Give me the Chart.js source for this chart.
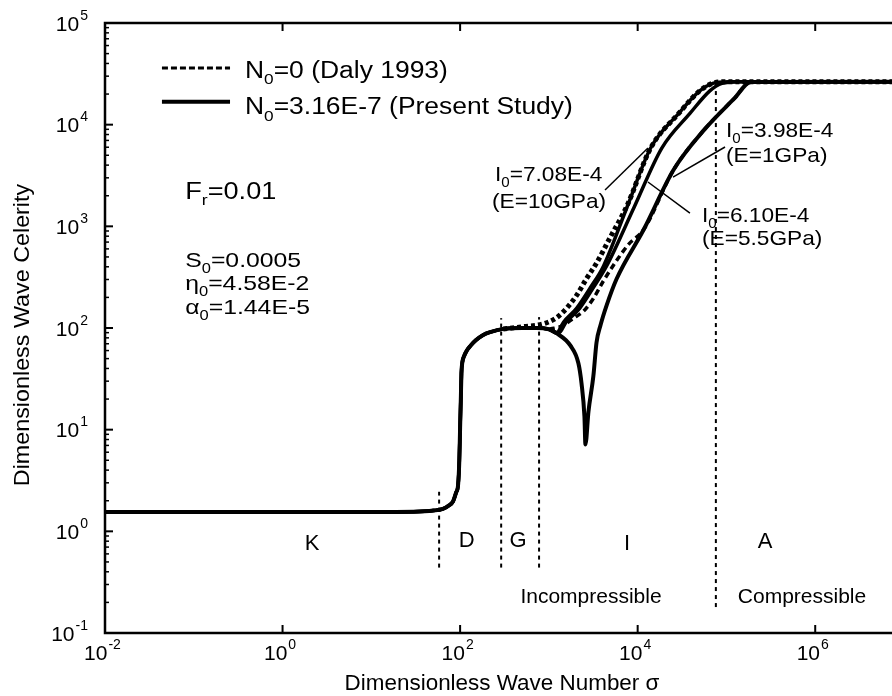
<!DOCTYPE html>
<html>
<head>
<meta charset="utf-8">
<script src="https://cdn.jsdelivr.net/npm/chart.js@4.4.1/dist/chart.umd.min.js"></script>
<style>
  html, body { margin: 0; padding: 0; background: #fff; overflow: hidden; }
  #wrap { width: 904px; height: 696px; }
</style>
</head>
<body>
<div id="wrap"><canvas id="waveChart" width="904" height="696"></canvas></div>
<script>
// part shared by every curve: kinetic plateau, jump near sigma=100, gravity plateau
const baseSigma = [0.01, 1, 10, 30, 50, 64, 75, 83, 90, 95, 98, 100, 102, 103.5, 106, 111, 119, 131, 151, 180, 218, 306, 500, 724, 1000];
const baseCelerity = [1.55, 1.55, 1.55, 1.56, 1.6, 1.66, 1.8, 1.96, 2.4, 2.9, 5, 10.6, 21, 36, 46, 53, 60, 67, 76, 85, 91, 98, 100, 100, 97];

// present study (N0 = 3.16E-7)
const sigmaE10 = [1216, 1460, 2050, 2940, 4130, 7600, 14000, 29000, 50000, 70000, 105000, 1e7];
const celerityE10 = [89, 114, 156, 250, 408, 1550, 5890, 12900, 21500, 25500, 26500, 26500];
const sigmaE55 = [1290, 1560, 2220, 3170, 4470, 9150, 18700, 38800, 65000, 89000, 138000, 1e7];
const celerityE55 = [89, 114, 156, 250, 408, 1550, 5890, 12900, 21500, 25500, 26500, 26500];
const sigmaE1 = [1216, 1750, 2150, 2330, 2515, 2580, 2790, 3170, 3440, 3820, 4470, 5800, 11700, 25500, 55700, 122000, 189000, 1e7];
const celerityE1 = [89, 67, 45, 28.6, 13.4, 7.15, 15, 33.7, 72, 107, 167, 305, 930, 3620, 8830, 18000, 26300, 26500];

// Daly 1993 (N0 = 0)
const sigmaDalyE10 = [306, 515, 867, 1216, 1580, 2050, 2650, 3440, 4950, 7600, 14000, 29000, 50000, 70000, 105000, 1e7];
const celerityDalyE10 = [98, 103, 110, 126, 156, 209, 305, 435, 790, 1600, 5890, 12900, 21500, 25500, 26500, 26500];
const sigmaDalyE1 = [1000, 1460, 1890, 2450, 3170, 4130, 5640, 7900, 11700, 25500, 55700, 122000, 189000, 1e7];
const celerityDalyE1 = [97, 106, 125, 146, 195, 292, 445, 665, 930, 3620, 8830, 18000, 26300, 26500];

// K|D, D|G, G|I, I|A region boundaries
const boundarySigma = [58, 290, 775, 76000];
const boundaryLow = [0.44, 0.44, 0.44, 0.18];
const boundaryHigh = [2.45, 125, 128, 22000];

const xTickValues = [1e-2, 1e0, 1e2, 1e4, 1e6];
const yTickValues = [1e-1, 1e0, 1e1, 1e2, 1e3, 1e4, 1e5];

const FONT = "'Liberation Sans', Arial, Helvetica, sans-serif";

const notes = [
  { text: "F_r=0.01", x: 0.08, y: 1860, size: 23, stretch: 1.18 },
  { text: "S_0=0.0005", x: 0.08, y: 398, size: 21, stretch: 1.18 },
  { text: "η_0=4.58E-2", x: 0.08, y: 237, size: 21, stretch: 1.18 },
  { text: "α_0=1.44E-5", x: 0.08, y: 137, size: 21, stretch: 1.18 },
  { text: "I_0=7.08E-4", x: 247, y: 2790, size: 21, stretch: 1.08 },
  { text: "(E=10GPa)", x: 229, y: 1510, size: 21, stretch: 1.08 },
  { text: "I_0=3.98E-4", x: 98900, y: 7570, size: 21, stretch: 1.08 },
  { text: "(E=1GPa)", x: 98900, y: 4300, size: 21, stretch: 1.08 },
  { text: "I_0=6.10E-4", x: 53000, y: 1100, size: 21, stretch: 1.08 },
  { text: "(E=5.5GPa)", x: 53000, y: 655, size: 21, stretch: 1.08 },
  { text: "K", x: 2.15, y: 0.66, size: 22, align: "center" },
  { text: "D", x: 119, y: 0.7, size: 22, align: "center" },
  { text: "G", x: 449, y: 0.7, size: 22, align: "center" },
  { text: "I", x: 7590, y: 0.66, size: 22, align: "center" },
  { text: "A", x: 272000, y: 0.68, size: 22, align: "center" },
  { text: "Incompressible", x: 2980, y: 0.197, size: 21, align: "center" },
  { text: "Compressible", x: 710000, y: 0.197, size: 21, align: "center" },
  { text: "N_0=0 (Daly 1993)", x: 0.377, y: 28800, size: 23, stretch: 1.15 },
  { text: "N_0=3.16E-7 (Present Study)", x: 0.377, y: 12700, size: 23, stretch: 1.15 }
];

const pointers = [
  [4290, 2280, 13060, 5900],
  [96400, 6030, 25000, 3050],
  [38800, 1350, 13060, 2730]
];

function toPoints(xs, ys) {
  return xs.map((x, i) => ({ x, y: ys[i] }));
}

function withBase(xs, ys) {
  return toPoints(baseSigma, baseCelerity).concat(toPoints(xs, ys));
}

// text with single-character subscripts written as _x
function drawRich(ctx, text, x, y, size, align, stretch) {
  const parts = text.split(/(_.)/).filter(Boolean).map((p) =>
    p[0] === "_" ? { t: p[1], sub: true } : { t: p, sub: false });
  let width = 0;
  parts.forEach((p) => {
    ctx.font = (p.sub ? Math.round(size * 0.65) : size) + "px " + FONT;
    p.w = ctx.measureText(p.t).width;
    width += p.w;
  });
  ctx.save();
  ctx.translate(x, y);
  ctx.scale(stretch || 1, 1);
  let cx = align === "center" ? -width / 2 : 0;
  ctx.fillStyle = "#000";
  ctx.textBaseline = "alphabetic";
  ctx.textAlign = "left";
  parts.forEach((p) => {
    ctx.font = (p.sub ? Math.round(size * 0.65) : size) + "px " + FONT;
    ctx.fillText(p.t, cx, p.sub ? size * 0.28 : 0);
    cx += p.w;
  });
  ctx.restore();
}

// "10" with the exponent raised, placed against a tick
function drawPower(ctx, value, x, y, mode) {
  const exp = String(Math.round(Math.log10(value)));
  ctx.fillStyle = "#000";
  ctx.textBaseline = "alphabetic";
  ctx.textAlign = "left";
  ctx.font = "21px " + FONT;
  const baseW = ctx.measureText("10").width;
  ctx.font = "14px " + FONT;
  const expW = ctx.measureText(exp).width;
  const start = mode === "right" ? x - baseW - expW - 1 : x - (baseW + expW) / 2 - 3;
  const baseline = mode === "right" ? y + 7.5 : y;
  ctx.font = "21px " + FONT;
  ctx.fillText("10", start, baseline);
  ctx.font = "14px " + FONT;
  ctx.fillText(exp, start + baseW + 1, baseline - 11);
}

const frameAndNotes = {
  id: "frameAndNotes",
  afterDraw(chart) {
    const ctx = chart.ctx;
    const { left, right, top, bottom } = chart.chartArea;
    const xs = chart.scales.x;
    const ys = chart.scales.y;
    ctx.save();
    ctx.strokeStyle = "#000";

    ctx.lineWidth = 2.5;
    ctx.beginPath();
    ctx.moveTo(right + 5, top);
    ctx.lineTo(left, top);
    ctx.lineTo(left, bottom);
    ctx.lineTo(right + 5, bottom);
    ctx.stroke();

    ctx.lineWidth = 2;
    xs.ticks.forEach((t) => {
      const px = xs.getPixelForValue(t.value);
      ctx.beginPath();
      ctx.moveTo(px, bottom);
      ctx.lineTo(px, bottom - 8);
      ctx.moveTo(px, top);
      ctx.lineTo(px, top + 8);
      ctx.stroke();
      drawPower(ctx, t.value, px, bottom + 27, "center");
    });
    for (let d = -1; d <= 4; d++) {
      for (let m = 1; m <= 9; m++) {
        const py = ys.getPixelForValue(m * Math.pow(10, d));
        ctx.lineWidth = m === 1 ? 2 : 1.5;
        ctx.beginPath();
        ctx.moveTo(left, py);
        ctx.lineTo(left + (m === 1 ? 8 : 4), py);
        ctx.stroke();
      }
    }
    ys.ticks.forEach((t) => {
      drawPower(ctx, t.value, left - 17, ys.getPixelForValue(t.value), "right");
    });

    // legend samples
    const lx1 = xs.getPixelForValue(0.0438);
    const lx2 = xs.getPixelForValue(0.256);
    ctx.lineWidth = 3;
    ctx.setLineDash([6, 3]);
    ctx.beginPath();
    ctx.moveTo(lx1, ys.getPixelForValue(36100));
    ctx.lineTo(lx2, ys.getPixelForValue(36100));
    ctx.stroke();
    ctx.setLineDash([]);
    ctx.lineWidth = 4;
    ctx.beginPath();
    ctx.moveTo(lx1, ys.getPixelForValue(16800));
    ctx.lineTo(lx2, ys.getPixelForValue(16800));
    ctx.stroke();

    ctx.lineWidth = 1.5;
    pointers.forEach(([x1, y1, x2, y2]) => {
      ctx.beginPath();
      ctx.moveTo(xs.getPixelForValue(x1), ys.getPixelForValue(y1));
      ctx.lineTo(xs.getPixelForValue(x2), ys.getPixelForValue(y2));
      ctx.stroke();
    });

    notes.forEach((n) => {
      drawRich(ctx, n.text, xs.getPixelForValue(n.x), ys.getPixelForValue(n.y), n.size, n.align || "left", n.stretch);
    });

    // axis titles
    drawRich(ctx, "Dimensionless Wave Number σ", 502, 690, 22, "center", 1.02);
    ctx.save();
    ctx.translate(29, 335);
    ctx.rotate(-Math.PI / 2);
    drawRich(ctx, "Dimensionless Wave Celerity", 0, 0, 22, "center", 1.06);
    ctx.restore();

    ctx.restore();
  }
};

const solid = { borderColor: "#000", borderWidth: 4, pointRadius: 0, showLine: true, cubicInterpolationMode: "monotone", order: 1 };
const datasets = [
  { ...solid, label: "E=10GPa", data: withBase(sigmaE10, celerityE10), borderWidth: 3.5 },
  { ...solid, label: "E=5.5GPa", data: withBase(sigmaE55, celerityE55), borderWidth: 3.5 },
  { ...solid, label: "E=1GPa", data: withBase(sigmaE1, celerityE1) },
  { ...solid, label: "Daly E=10GPa", data: toPoints(sigmaDalyE10, celerityDalyE10), borderWidth: 5, borderDash: [4, 3], order: 0 },
  { ...solid, label: "Daly E=1GPa", data: toPoints(sigmaDalyE1, celerityDalyE1), borderWidth: 3.5, borderDash: [6, 4], order: 0 }
];
boundarySigma.forEach((s, i) => {
  datasets.push({
    label: "boundary " + i,
    data: [{ x: s, y: boundaryLow[i] }, { x: s, y: boundaryHigh[i] }],
    borderColor: "#000",
    borderWidth: 2,
    borderDash: [4, 4],
    pointRadius: 0,
    showLine: true,
    order: 2
  });
});

new Chart(document.getElementById("waveChart").getContext("2d"), {
  type: "scatter",
  data: { datasets },
  options: {
    responsive: false,
    animation: false,
    events: [],
    layout: { padding: { top: 23, left: 0, right: 0, bottom: 0 } },
    plugins: { legend: { display: false }, tooltip: { enabled: false } },
    scales: {
      x: {
        type: "logarithmic",
        min: 0.01,
        max: 1e7,
        grid: { display: false, drawTicks: false },
        border: { display: false },
        ticks: { display: false },
        afterBuildTicks: (scale) => { scale.ticks = xTickValues.map((value) => ({ value })); },
        afterFit: (scale) => { scale.height = 63; }
      },
      y: {
        type: "logarithmic",
        min: 0.1,
        max: 1e5,
        grid: { display: false, drawTicks: false },
        border: { display: false },
        ticks: { display: false },
        afterBuildTicks: (scale) => { scale.ticks = yTickValues.map((value) => ({ value })); },
        afterFit: (scale) => { scale.width = 105; }
      }
    }
  },
  plugins: [frameAndNotes]
});
</script>
</body>
</html>
